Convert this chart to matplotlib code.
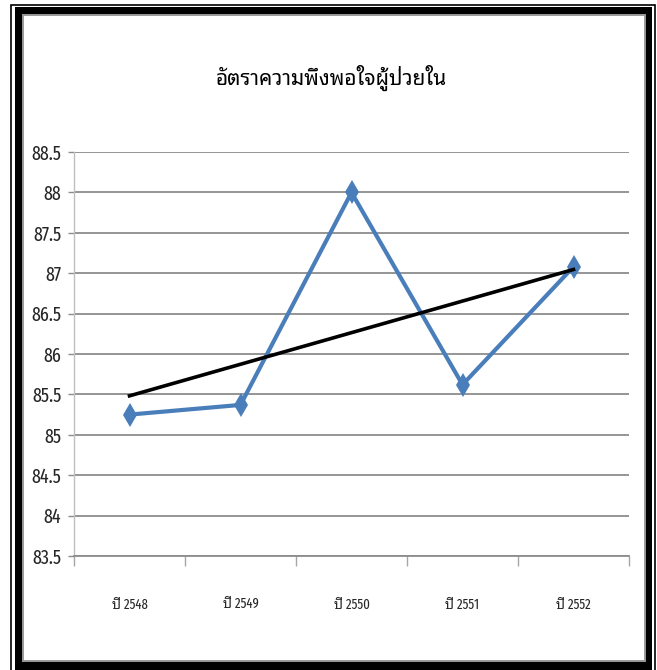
import matplotlib
matplotlib.use("Agg")
import matplotlib.pyplot as plt
from matplotlib.patches import Rectangle
from matplotlib.ticker import FixedLocator, MultipleLocator
import numpy as np

# Inpatient satisfaction rate by year
years = ["ปี 2548", "ปี 2549", "ปี 2550", "ปี 2551", "ปี 2552"]
satisfaction = [85.25, 85.37, 88.0, 85.62, 87.08]
title_text = "อัตราความพึงพอใจผู้ป่วยใน"

W, H = 657, 670
fig = plt.figure(figsize=(W / 100, H / 100), dpi=100)
fig.patch.set_facecolor("white")


def frac(x, y):
    """Pixel position (from top-left) to figure fraction."""
    return x / W, 1 - y / H


def rect_px(x0, y0, x1, y1, **kw):
    fx0, fy1 = frac(x0, y1)
    r = Rectangle((fx0, fy1), (x1 - x0) / W, (y1 - y0) / H,
                  transform=fig.transFigure, **kw)
    fig.add_artist(r)
    return r


# Picture frame: thin outer rule, heavy black band, grey inner edge
rect_px(11, 4.5, 654.5, 680, facecolor="white", edgecolor="black",
        linewidth=1.2, zorder=-5)
rect_px(14.5, 7, 652, 680, facecolor="black", edgecolor="none", zorder=-4)
rect_px(22.5, 15, 645, 661, facecolor="white", edgecolor="#9a9a9a",
        linewidth=1.4, zorder=-3)

num_font = ["Fira Sans Extra Condensed", "DejaVu Sans"]
thai_font = ["Fira Sans Extra Condensed", "Noto Sans Thai Looped", "DejaVu Sans"]

x0, x1, ytop, ybot = 74, 629, 152, 556
ax = fig.add_axes([x0 / W, 1 - ybot / H, (x1 - x0) / W, (ybot - ytop) / H])
ax.set_facecolor("none")

x = np.arange(1, len(years) + 1)
ax.plot(x, satisfaction, color="#4a7ebb", linewidth=3.0, marker="d",
        markersize=12, markeredgewidth=0, solid_capstyle="round",
        solid_joinstyle="miter", zorder=3)

# Linear trend line through the yearly values
coef = np.polyfit(x, satisfaction, 1)
ax.plot([x[0], x[-1]], np.polyval(coef, [x[0], x[-1]]), color="black",
        linewidth=2.6, zorder=4)

ax.set_xlim(0.5, len(years) + 0.5)
ax.set_ylim(83.5, 88.5)
ax.yaxis.set_major_locator(MultipleLocator(0.5))
ax.yaxis.set_major_formatter(matplotlib.ticker.FuncFormatter(
    lambda v, p: f"{v:g}"))
ax.grid(axis="y", color="#8c8c8c", linewidth=1.3, zorder=1)
ax.set_axisbelow(True)

ax.set_xticks(x)
ax.set_xticklabels(years)
ax.xaxis.set_minor_locator(FixedLocator(np.arange(0.5, len(years) + 1, 1)))
ax.tick_params(axis="x", which="major", length=0, pad=30)
ax.tick_params(axis="x", which="minor", length=7, width=1.0, color="#a6a6a6")
ax.tick_params(axis="y", length=4, width=1.0, color="#8c8c8c", pad=5,
               labelsize=14, labelcolor="#262626")
for lab in ax.get_yticklabels():
    lab.set_family(num_font)
for lab in ax.get_xticklabels():
    lab.set_family(thai_font)
    lab.set_fontsize(10)
    lab.set_color("#262626")

for side in ("top", "right"):
    ax.spines[side].set_visible(False)
ax.spines["left"].set_color("#bfbfbf")
ax.spines["left"].set_linewidth(1.0)
ax.spines["bottom"].set_color("#8c8c8c")
ax.spines["bottom"].set_linewidth(1.3)

tx, ty = frac(331, 78)
fig.text(tx, ty, title_text, ha="center", va="center", fontsize=15,
         family=["Noto Sans Thai Looped", "DejaVu Sans"], color="black")

fig.savefig("out.png", dpi=100, facecolor="white")
